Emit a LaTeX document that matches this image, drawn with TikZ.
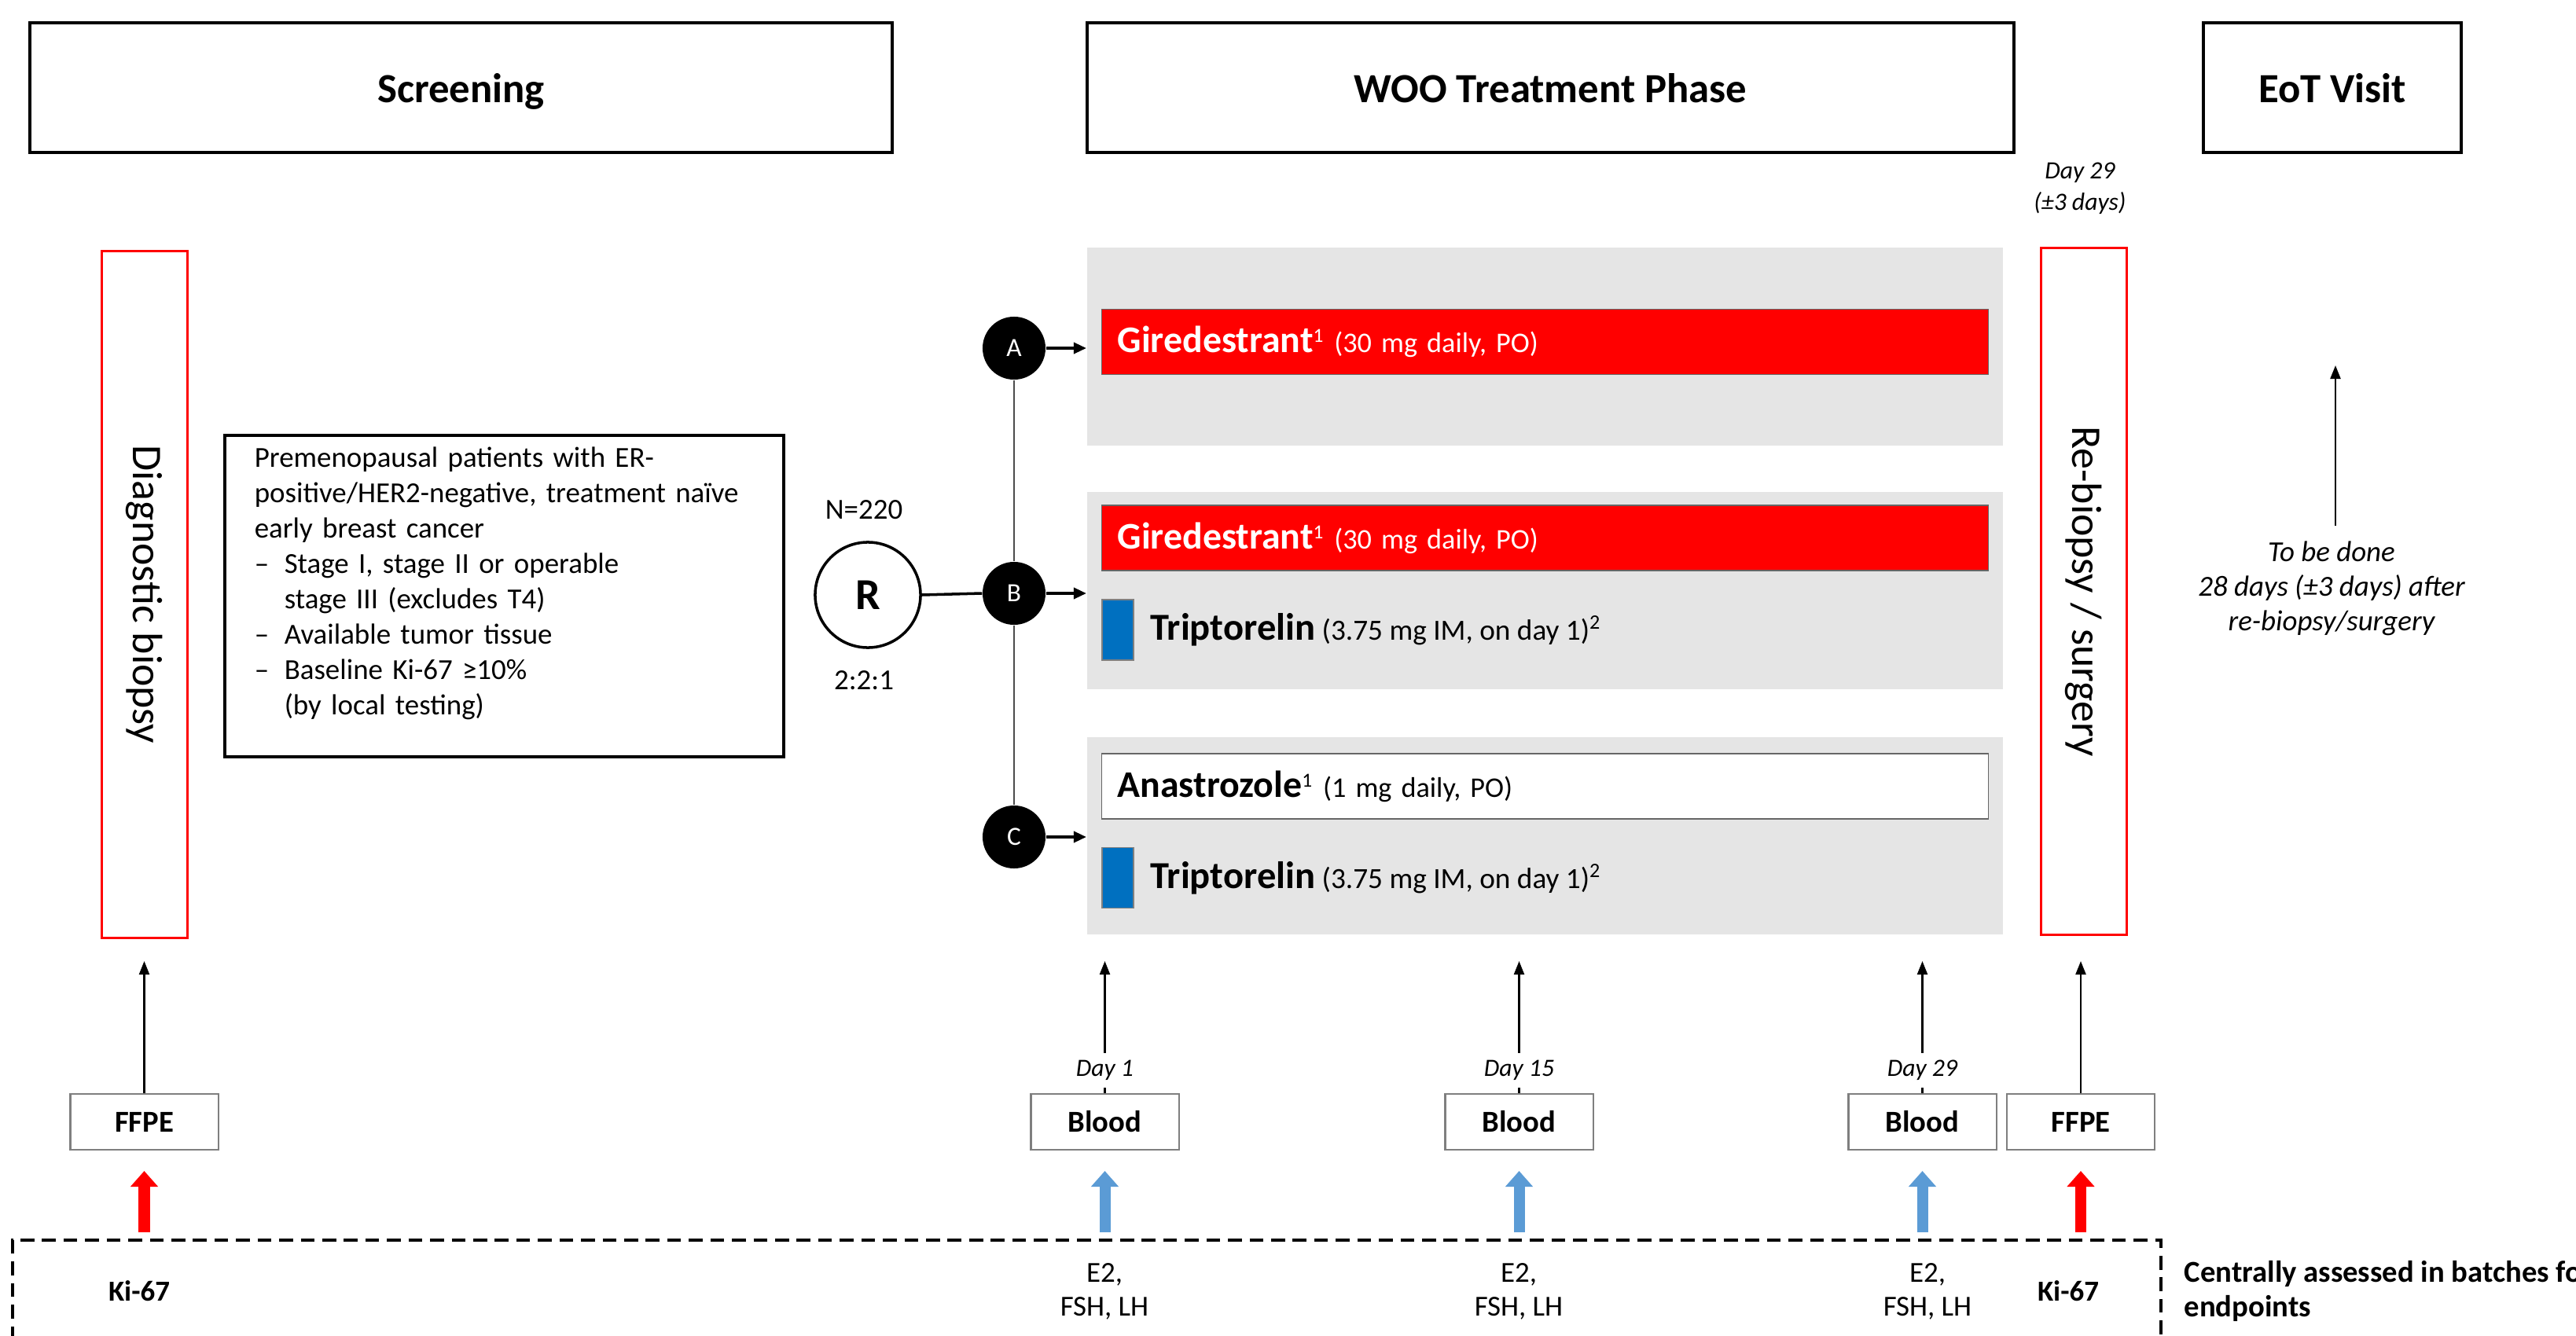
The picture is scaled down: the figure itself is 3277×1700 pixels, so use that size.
\documentclass[tikz,border=0pt]{standalone}
\usepackage{fontspec}
\setmainfont{Carlito}
\usepackage{tikz}
\usetikzlibrary{arrows.meta,positioning}
\usepackage{xcolor}
\definecolor{trialred}{HTML}{FF0000}
\definecolor{trialblue}{HTML}{0070C0}
\definecolor{lightarrow}{HTML}{5B9BD5}
\definecolor{panelgray}{HTML}{E5E5E5}
\definecolor{edgegray}{HTML}{7F7F7F}
\newcommand{\setfs}[2]{\fontsize{#1}{#2}\selectfont}
\newcommand{\critdash}{\makebox[0.38cm][l]{--}}

\begin{document}
\begin{tikzpicture}[
  x=0.01cm, y=-0.01cm,
  phasebox/.style={
    draw,
    line width=1.1pt,
    minimum width=#1,
    minimum height=1.65cm,
    text height=0.45cm,
    text depth=0.08cm,
    font=\setfs{15}{18}\bfseries
  },
  redcol/.style={
    draw=trialred,
    line width=0.9pt,
    rotate=-90,
    minimum width=8.73cm,
    minimum height=1.09cm,
    font=\setfs{15.3}{17}
  },
  critbox/.style={
    draw,
    line width=1pt,
    minimum width=7.11cm,
    minimum height=4.09cm,
    inner xsep=0.38cm,
    text width=6.35cm,
    align=left,
    font=\setfs{10.5}{12.8}
  },
  armcirc/.style={circle, fill=black, text=white, minimum size=0.8cm, inner sep=0pt, font=\setfs{9.5}{10}},
  armpanel/.style={fill=panelgray, minimum width=11.65cm, minimum height=2.51cm, inner sep=0pt},
  drugbar/.style={
    draw=black!60,
    line width=0.4pt,
    minimum height=0.83cm,
    inner xsep=0.2cm,
    text width=10.87cm,
    align=left,
    font=\setfs{10.3}{12}
  },
  blueblk/.style={fill=trialblue, draw=black!50, line width=0.3pt, minimum width=0.4cm, minimum height=0.77cm, inner sep=0pt},
  samplebox/.style={draw=edgegray, line width=0.6pt, minimum width=1.88cm, minimum height=0.71cm, font=\setfs{11}{12}\bfseries},
  daylabel/.style={fill=white, inner sep=1pt, minimum height=0.44cm, font=\setfs{9}{10}\itshape},
  plaintxt/.style={inner sep=0pt, font=\setfs{10.5}{12.3}},
  thinarrow/.style={-{Triangle[length=0.17cm, width=0.13cm]}, line width=0.6pt},
  armarrow/.style={-{Triangle[length=0.16cm, width=0.14cm]}, line width=1pt},
  fatarrow/.style={-{Triangle[length=0.2cm, width=0.34cm]}, line width=0.14cm, draw=#1},
  dashline/.style={line width=1.3pt, dash pattern=on 5pt off 2.8pt}
]
  \useasboundingbox (0,0) rectangle (3277,1700);

  % Phase headers
  \node[phasebox=10.97cm] (screen) at (586.5,111.5) {Screening};
  \node[phasebox=11.79cm] (woo) at (1972.5,111.5) {WOO Treatment Phase};
  \node[phasebox=3.28cm] (eot) at (2967,111.5) {EoT Visit};
  \node[inner sep=0pt, align=center, font=\setfs{9}{11.4}\itshape] (day29top) at (2646,240) {Day 29\\(\textpm3 days)};

  % Biopsy columns
  \node[redcol] (diag) at (184,756.5) {Diagnostic biopsy};
  \node[redcol] (rebiop) at (2651,752.5) {Re-biopsy / surgery};

  % Eligibility
  \node[critbox, anchor=north west] (crit) at (284,552) {Premenopausal patients with ER-\\positive/HER2-negative, treatment naïve\\early breast cancer\\\critdash Stage I, stage II or operable\\\hspace*{0.38cm}stage III (excludes T4)\\\critdash Available tumor tissue\\\critdash Baseline Ki-67 ≥10\%\\\hspace*{0.38cm}(by local testing)\rule[-0.39cm]{0pt}{0pt}};

  % Randomisation
  \node[circle, draw, line width=1pt, minimum size=1.34cm, font=\setfs{16}{18}\bfseries] (rand) at (1104,757) {R};
  \node[plaintxt] (ntot) at (1099,649) {N=220};
  \node[plaintxt] (ratio) at (1099,866) {2:2:1};

  % Arm panels
  \node[armpanel] (panA) at (1965.5,441) {};
  \node[armpanel] (panB) at (1965.5,751.5) {};
  \node[armpanel] (panC) at (1965.5,1063.5) {};

  \node[armcirc] (armA) at (1290,443) {A};
  \node[armcirc] (armB) at (1290,755) {B};
  \node[armcirc] (armC) at (1290,1065) {C};

  \draw[line width=0.4pt, black!70] (armA.south) -- (armB.north);
  \draw[line width=0.4pt, black!70] (armB.south) -- (armC.north);
  \draw[line width=1pt] (rand.east) -- (armB.west);
  \draw[armarrow] (armA.east) -- (armA -| panA.west);
  \draw[armarrow] (armB.east) -- (armB -| panB.west);
  \draw[armarrow] (armC.east) -- (armC -| panC.west);

  % Drugs
  \node[drugbar, fill=trialred, text=white] (barA) at (1965.5,435) {{\setfs{13.6}{15}\bfseries Giredestrant}\textsuperscript{1} (30 mg daily, PO)};
  \node[drugbar, fill=trialred, text=white] (barB) at (1965.5,684.5) {{\setfs{13.6}{15}\bfseries Giredestrant}\textsuperscript{1} (30 mg daily, PO)};
  \node[blueblk] (blueB) at (1422,801.5) {};
  \node[plaintxt, font=\setfs{10.6}{12}, right=0.2cm of blueB] (tripB) {{\setfs{13.8}{15}\bfseries Triptorelin} (3.75 mg IM, on day 1)\textsuperscript{2}};

  \node[drugbar, fill=white] (barC) at (1965.5,1000.5) {{\setfs{13.6}{15}\bfseries Anastrozole}\textsuperscript{1} (1 mg daily, PO)};
  \node[blueblk] (blueC) at (1422,1117) {};
  \node[plaintxt, font=\setfs{10.6}{12}, right=0.2cm of blueC] (tripC) {{\setfs{13.8}{15}\bfseries Triptorelin} (3.75 mg IM, on day 1)\textsuperscript{2}};

  % EoT note
  \node[inner sep=0pt, align=center, font=\setfs{10.5}{12.5}\itshape] (eotnote) at (2966,749) {To be done\\28 days (\textpm3 days) after\\re-biopsy/surgery};
  \coordinate (eotfoot) at (2971,669);
  \coordinate (eothead) at (2971,465);
  \draw[thinarrow] (eotfoot) -- (eothead);

  % Samples
  \coordinate (tipline) at (0,1223);
  \coordinate (daylvl) at (0,1362);
  \coordinate (fatbase) at (0,1568);
  \coordinate (fattip) at (0,1490);

  \node[samplebox] (ffpeA) at (183.5,1427.5) {FFPE};
  \node[samplebox] (bloodA) at (1405.5,1427.5) {Blood};
  \node[samplebox] (bloodB) at (1932.5,1427.5) {Blood};
  \node[samplebox] (bloodC) at (2445.5,1427.5) {Blood};
  \node[samplebox] (ffpeB) at (2647,1427.5) {FFPE};

  \foreach \smp in {ffpeA,bloodA,bloodB,bloodC,ffpeB}
    \draw[thinarrow] (\smp.north) -- (\smp.north |- tipline);

  \node[daylabel] (lblA) at (bloodA.north |- daylvl) {Day 1};
  \node[daylabel] (lblB) at (bloodB.north |- daylvl) {Day 15};
  \node[daylabel] (lblC) at (bloodC.north |- daylvl) {Day 29};

  \draw[fatarrow=trialred] (ffpeA.south |- fatbase) -- (ffpeA.south |- fattip);
  \draw[fatarrow=lightarrow] (bloodA.south |- fatbase) -- (bloodA.south |- fattip);
  \draw[fatarrow=lightarrow] (bloodB.south |- fatbase) -- (bloodB.south |- fattip);
  \draw[fatarrow=lightarrow] (bloodC.south |- fatbase) -- (bloodC.south |- fattip);
  \draw[fatarrow=trialred] (ffpeB.south |- fatbase) -- (ffpeB.south |- fattip);

  % Central assessment
  \draw[dashline] (16,1760) -- (16,1578) -- (2749,1578) -- (2749,1760);

  \node[plaintxt, font=\setfs{10.5}{12.3}\bfseries] (kiA) at (177,1643) {Ki-67};
  \node[plaintxt, align=center] (horA) at (1405,1643) {E2,\\FSH, LH};
  \node[plaintxt, align=center] (horB) at (1932,1643) {E2,\\FSH, LH};
  \node[plaintxt, align=center] (horC) at (2452,1643) {E2,\\FSH, LH};
  \node[plaintxt, font=\setfs{10.5}{12.3}\bfseries] (kiB) at (2631,1643) {Ki-67};
  \node[plaintxt, font=\setfs{11}{12.3}\bfseries, anchor=west, align=left] (central) at (2778,1643) {Centrally assessed in batches for\\endpoints};

\end{tikzpicture}
\end{document}
